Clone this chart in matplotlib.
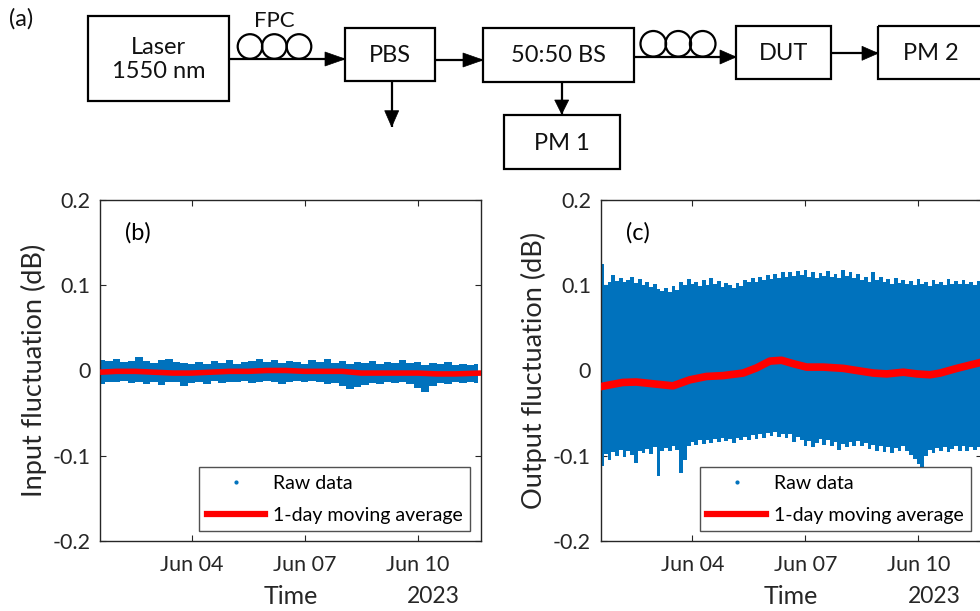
import numpy as np
import matplotlib
matplotlib.use("Agg")
import matplotlib.pyplot as plt
import matplotlib.dates as mdates
from matplotlib.lines import Line2D
from matplotlib.patches import Rectangle, Circle, Polygon

plt.rcParams['font.family'] = ['Lato', 'DejaVu Sans']

# ---------------- data (days after 2023-06-01 00:00) ----------------
start = np.datetime64('2023-06-01T00:00')
x_start_day = 0.566
x_end_day = 10.68
tick_days = [3, 6, 9]

# panel (b): input fluctuation envelope of raw data
b_days = [0.6, 0.8, 1.0, 1.2, 1.4, 1.6, 1.8, 2.0, 2.2, 2.4, 2.6, 2.8, 3.0, 3.2, 3.4, 3.6, 3.8,
          4.0, 4.2, 4.4, 4.6, 4.8, 5.0, 5.2, 5.4, 5.6, 5.8, 6.0, 6.2, 6.4, 6.6, 6.8, 7.0,
          7.2, 7.4, 7.6, 7.8, 8.0, 8.2, 8.4, 8.6, 8.8, 9.0, 9.2, 9.4, 9.6, 9.8, 10.0, 10.2,
          10.4, 10.6]
b_upper = [0.012, 0.011, 0.013, 0.010, 0.011, 0.016, 0.011, 0.009, 0.012, 0.014, 0.010, 0.009,
           0.008, 0.010, 0.008, 0.011, 0.009, 0.012, 0.008, 0.010, 0.011, 0.014, 0.010, 0.012,
           0.009, 0.011, 0.010, 0.008, 0.012, 0.010, 0.013, 0.009, 0.011, 0.008, 0.010, 0.009,
           0.011, 0.008, 0.010, 0.009, 0.012, 0.009, 0.010, 0.007, 0.009, 0.008, 0.010, 0.007,
           0.008, 0.006, 0.008]
b_lower = [-0.016, -0.013, -0.014, -0.012, -0.015, -0.013, -0.016, -0.014, -0.017, -0.014,
           -0.013, -0.018, -0.015, -0.013, -0.016, -0.012, -0.015, -0.013, -0.014, -0.012,
           -0.015, -0.013, -0.012, -0.014, -0.016, -0.013, -0.012, -0.014, -0.012, -0.013,
           -0.016, -0.015, -0.018, -0.022, -0.019, -0.017, -0.015, -0.016, -0.014, -0.015,
           -0.013, -0.016, -0.021, -0.025, -0.018, -0.015, -0.016, -0.014, -0.015, -0.013,
           -0.015]
b_ma_days = [0.57, 1.0, 1.5, 2.0, 2.5, 3.0, 3.5, 4.0, 4.5, 5.0, 5.5, 6.0, 6.5, 7.0, 7.5, 8.0,
             8.5, 9.0, 9.5, 10.0, 10.68]
b_ma = [-0.002, -0.001, -0.001, -0.002, -0.003, -0.003, -0.002, -0.001, -0.001, 0.0, 0.0,
        -0.001, -0.001, -0.001, -0.003, -0.003, -0.003, -0.003, -0.004, -0.004, -0.003]

# panel (c): output fluctuation envelope of raw data
c_days = [0.56, 0.6, 0.7, 0.8, 0.9, 1.0, 1.1, 1.2, 1.3, 1.4, 1.5, 1.6, 1.7, 1.8, 1.9, 2.0, 2.1,
          2.2, 2.3, 2.4, 2.5, 2.6, 2.7, 2.8, 2.9, 3.0, 3.1, 3.2, 3.3, 3.4, 3.5, 3.6, 3.7, 3.8,
          3.9, 4.0, 4.1, 4.2, 4.3, 4.4, 4.5, 4.6, 4.7, 4.8, 4.9, 5.0, 5.1, 5.2, 5.3, 5.4, 5.5,
          5.6, 5.7, 5.8, 5.9, 6.0, 6.1, 6.2, 6.3, 6.4, 6.5, 6.6, 6.7, 6.8, 6.9, 7.0, 7.1, 7.2,
          7.3, 7.4, 7.5, 7.6, 7.7, 7.8, 7.9, 8.0, 8.1, 8.2, 8.3, 8.4, 8.5, 8.6, 8.7, 8.8, 8.9,
          9.0, 9.1, 9.2, 9.3, 9.4, 9.5, 9.6, 9.7, 9.8, 9.9, 10.0, 10.1, 10.2, 10.3, 10.4, 10.5,
          10.6, 10.7]
c_upper = [0.104, 0.125, 0.100, 0.104, 0.112, 0.105, 0.108, 0.104, 0.106, 0.110, 0.103, 0.107,
           0.100, 0.104, 0.098, 0.101, 0.096, 0.093, 0.097, 0.092, 0.099, 0.095, 0.104, 0.100,
           0.107, 0.101, 0.104, 0.099, 0.106, 0.100, 0.108, 0.102, 0.105, 0.098, 0.103, 0.100,
           0.097, 0.103, 0.099, 0.106, 0.104, 0.109, 0.104, 0.110, 0.106, 0.112, 0.107, 0.113,
           0.109, 0.115, 0.110, 0.116, 0.111, 0.117, 0.112, 0.118, 0.110, 0.116, 0.109, 0.114,
           0.111, 0.117, 0.110, 0.113, 0.108, 0.118, 0.111, 0.115, 0.108, 0.113, 0.106, 0.110,
           0.104, 0.115, 0.106, 0.110, 0.104, 0.107, 0.102, 0.108, 0.103, 0.106, 0.101, 0.105,
           0.100, 0.107, 0.102, 0.104, 0.099, 0.106, 0.101, 0.104, 0.100, 0.107, 0.102, 0.105,
           0.101, 0.106, 0.102, 0.104, 0.100, 0.105, 0.103]
c_lower = [-0.105, -0.112, -0.098, -0.105, -0.096, -0.100, -0.093, -0.102, -0.095, -0.099,
           -0.108, -0.094, -0.097, -0.092, -0.098, -0.090, -0.124, -0.095, -0.091, -0.094,
           -0.088, -0.093, -0.120, -0.105, -0.088, -0.084, -0.087, -0.082, -0.086, -0.081,
           -0.085, -0.080, -0.084, -0.079, -0.083, -0.080, -0.085, -0.079, -0.082, -0.078,
           -0.081, -0.076, -0.080, -0.075, -0.079, -0.073, -0.077, -0.072, -0.078, -0.074,
           -0.079, -0.075, -0.084, -0.078, -0.082, -0.088, -0.083, -0.090, -0.085, -0.080,
           -0.087, -0.082, -0.089, -0.084, -0.093, -0.086, -0.090, -0.084, -0.088, -0.083,
           -0.089, -0.085, -0.092, -0.087, -0.094, -0.088, -0.096, -0.090, -0.097, -0.091,
           -0.095, -0.089, -0.094, -0.099, -0.104, -0.110, -0.113, -0.100, -0.093, -0.097,
           -0.091, -0.095, -0.090, -0.096, -0.092, -0.088, -0.094, -0.089, -0.095, -0.090,
           -0.093, -0.090, -0.095]
c_ma_days = [0.553, 1.154, 1.511, 2.043, 2.484, 2.928, 3.372, 3.814, 4.346, 4.702, 5.056,
             5.367, 5.676, 6.032, 6.473, 7.005, 7.362, 7.803, 8.160, 8.601, 8.957, 9.311,
             9.577, 10.02, 10.70]
c_ma = [-0.019, -0.014, -0.0135, -0.016, -0.018, -0.011, -0.007, -0.006, -0.003, 0.003,
        0.011, 0.012, 0.008, 0.004, 0.004, 0.0025, 0.0, -0.003, -0.004, -0.002, -0.004,
        -0.005, -0.003, 0.0025, 0.010]

y_ticks = [-0.2, -0.1, 0, 0.1, 0.2]
y_ticklabels = ['-0.2', '-0.1', '0', '0.1', '0.2']
year_label = '2023'
raw_label = 'Raw data'
ma_label = '1-day moving average'

RAW = '#0072BD'
RED = '#FF0000'
INK = '#262626'


def to_dt(days):
    return start + (np.asarray(days) * 24 * 60).astype('timedelta64[m]')


W, H = 980, 611
fig = plt.figure(figsize=(W / 100, H / 100), dpi=100)


def fx(px):
    return px / W


def fy(py):
    return 1 - py / H


def panel(left_px, ylabel, tag, days, upper, lower, ma_days, ma, ma_lw):
    ax = fig.add_axes([fx(left_px), fy(541), 381 / W, 341 / H])
    ax.fill_between(to_dt(days), lower, upper, step='mid', color=RAW, lw=0, zorder=2)
    ax.plot(to_dt(ma_days), ma, color=RED, lw=ma_lw, solid_capstyle='butt', zorder=3)
    ax.set_xlim(to_dt([x_start_day])[0], to_dt([x_end_day])[0])
    ax.set_ylim(-0.2, 0.2)
    ax.set_yticks(y_ticks)
    ax.set_yticklabels(y_ticklabels)
    ax.set_xticks(to_dt(tick_days))
    ax.xaxis.set_major_formatter(mdates.DateFormatter('%b %d'))
    ax.tick_params(direction='in', length=4, width=0.8, top=True, right=True,
                   labelsize=15.5, colors=INK, pad=7)
    ax.tick_params(axis='x', pad=10)
    for s in ax.spines.values():
        s.set_color(INK)
        s.set_linewidth(1.0)
    ax.set_ylabel(ylabel, fontsize=19.5, color=INK, labelpad=4)
    ax.text(0.066, 0.905, tag, transform=ax.transAxes, fontsize=17, color='black',
            ha='left', va='center')
    ax.text(0.50, -0.163, 'Time', transform=ax.transAxes, fontsize=18, color=INK,
            ha='center', va='center')
    ax.text(0.875, -0.163, year_label, transform=ax.transAxes, fontsize=16.5, color=INK,
            ha='center', va='center')
    h_raw = Line2D([], [], ls='none', marker='.', ms=4, color=RAW)
    h_ma = Line2D([], [], color=RED, lw=4.5)
    leg = ax.legend([h_raw, h_ma], [raw_label, ma_label], loc='lower right',
                    bbox_to_anchor=(0.972, 0.028), fontsize=14, frameon=True, fancybox=False,
                    handlelength=3.0, handletextpad=0.4, borderpad=0.4, labelspacing=0.75,
                    borderaxespad=0.0)
    leg.get_frame().set_edgecolor(INK)
    leg.get_frame().set_linewidth(1.0)
    return ax


axb = panel(100, 'Input fluctuation (dB)', '(b)', b_days, b_upper, b_lower, b_ma_days, b_ma, 4.0)
axc = panel(600.7, 'Output fluctuation (dB)', '(c)', c_days, c_upper, c_lower, c_ma_days, c_ma, 5.5)

# ---------------- block diagram (a) in pixel coordinates ----------------
ov = fig.add_axes([0, 0, 1, 1], zorder=5)
ov.set_xlim(0, W)
ov.set_ylim(H, 0)
ov.axis('off')
ov.patch.set_alpha(0)

boxes = [
    (87.7, 15.7, 229, 101, 'Laser\n1550 nm'),
    (345, 27.7, 435, 80.7, 'PBS'),
    (483, 28.3, 634, 81.7, '50:50 BS'),
    (504, 115, 620, 169, 'PM 1'),
    (736, 26, 831, 79.3, 'DUT'),
    (878, 25.7, 990, 79, 'PM 2'),
]
for x0, y0, x1, y1, label in boxes:
    ov.add_patch(Rectangle((x0, y0), x1 - x0, y1 - y0, fill=False, ec='black', lw=1.6))
    cx = (x0 + x1) / 2 if label != 'PM 2' else 930.7
    ov.text(cx, (y0 + y1) / 2 + 1, label, ha='center', va='center', fontsize=17,
            color='#111111', linespacing=1.2)


def arrow(x0, y0, x1, y1, head=20, half=7):
    ov.plot([x0, x1], [y0, y1], color='black', lw=1.6, solid_capstyle='butt')
    d = np.array([x1 - x0, y1 - y0], float)
    d /= np.hypot(*d)
    n = np.array([-d[1], d[0]])
    tip = np.array([x1, y1])
    base = tip - d * head
    ov.add_patch(Polygon([tip, base + n * half, base - n * half], closed=True,
                         fc='black', ec='black', lw=0.5))


arrow(229, 59, 345, 59)
arrow(435, 60, 483, 60)
arrow(391.7, 80.7, 391.7, 126.7, head=16)
arrow(561.7, 81.7, 561.7, 114, head=14)
arrow(634, 57, 736, 57, head=16)
arrow(831, 53.3, 878, 53.3, head=16)

for cx in (250, 274.3, 299):
    ov.add_patch(Circle((cx, 46.5), 12.3, fill=False, ec='black', lw=1.6))
for cx in (653.3, 678.3, 702.7):
    ov.add_patch(Circle((cx, 43.8), 12.8, fill=False, ec='black', lw=1.6))

ov.text(274.3, 21, 'FPC', ha='center', va='center', fontsize=16, color='#111111')
ov.text(9, 19, '(a)', ha='left', va='center', fontsize=17, color='#111111')

fig.savefig('out.png', dpi=100)
